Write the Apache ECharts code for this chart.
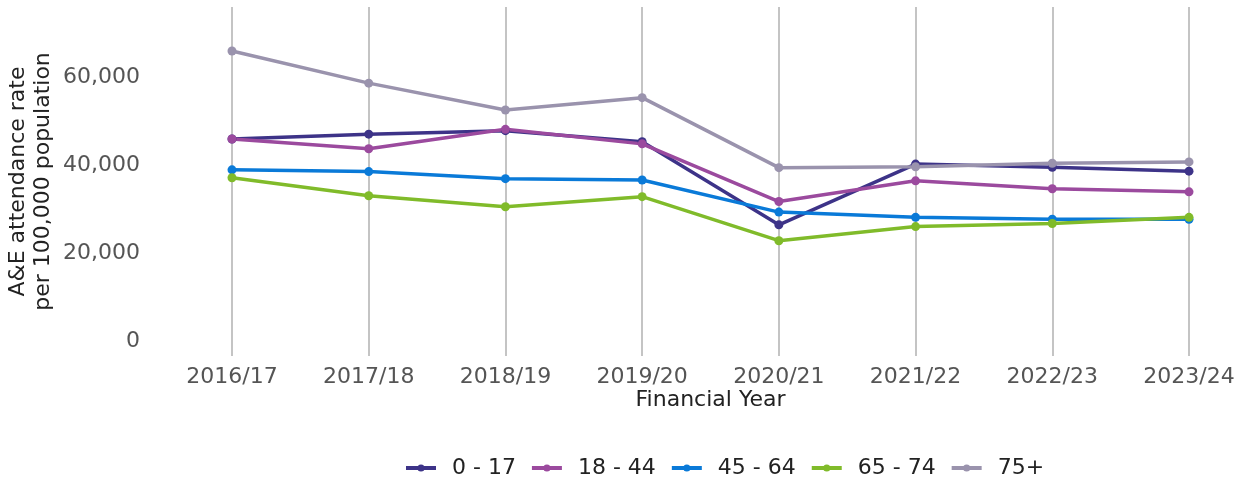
<!DOCTYPE html>
<html>
<head>
<meta charset="utf-8">
<script src="https://cdn.jsdelivr.net/npm/echarts@6/dist/echarts.min.js"></script>
<style>
  html, body { margin: 0; padding: 0; background: #fff; }
  #chart { width: 1247px; height: 483px; }
</style>
</head>
<body>
<div id="chart"></div>
<script>
// financial years on the x axis
const years = ["2016/17", "2017/18", "2018/19", "2019/20", "2020/21", "2021/22", "2022/23", "2023/24"];

// A&E attendance rate per 100,000 population, by age band
const age0to17 = [45900, 47000, 47800, 45300, 26400, 40200, 39500, 38600];
const age18to44 = [45900, 43700, 48100, 44800, 31700, 36400, 34600, 33900];
const age45to64 = [38900, 38500, 36900, 36600, 29300, 28100, 27700, 27650];
const age65to74 = [37100, 33000, 30500, 32800, 22800, 26000, 26700, 28100];
const age75plus = [65900, 58600, 52500, 55300, 39400, 39600, 40400, 40700];

const yTicks = [0, 20000, 40000, 60000];

const font = "'DejaVu Sans', sans-serif";

function lineSeries(name, data, color) {
  return {
    name: name,
    type: "line",
    data: data,
    symbol: "circle",
    symbolSize: 9,
    lineStyle: { color: color, width: 3.5 },
    itemStyle: { color: color },
    emphasis: { disabled: true },
  };
}

const chart = echarts.init(document.getElementById("chart"));
chart.setOption({
  animation: false,
  backgroundColor: "#fff",
  grid: { left: 232, right: 58, top: 7, bottom: 127, outerBoundsMode: "none", containLabel: false },
  legend: {
    top: 452,
    left: 399,
    itemWidth: 30,
    itemHeight: 9,
    itemGap: 14,
    lineStyle: { width: 4 },
    textStyle: { fontFamily: font, fontSize: 22, color: "#222", padding: [0, 0, 0, 11] },
  },
  xAxis: {
    type: "category",
    data: years,
    boundaryGap: false,
    name: "Financial Year",
    nameLocation: "middle",
    nameGap: 33,
    nameMoveOverlap: false,
    nameTextStyle: { fontFamily: font, fontSize: 22, color: "#222" },
    axisLine: { show: false },
    axisTick: { show: false },
    axisLabel: { fontFamily: font, fontSize: 22, color: "#555", margin: 10 },
    splitLine: { show: true, lineStyle: { color: "#c4c4c4", width: 2 } },
  },
  yAxis: {
    type: "value",
    min: -3400,
    max: 75900,
    name: "A&E attendance rate\nper 100,000 population",
    nameLocation: "middle",
    nameGap: 176,
    nameMoveOverlap: false,
    nameRotate: 90,
    nameTextStyle: { fontFamily: font, fontSize: 22, color: "#222", lineHeight: 25 },
    axisLine: { show: false },
    axisTick: { show: false },
    splitLine: { show: false },
    axisLabel: {
      customValues: yTicks,
      fontFamily: font,
      fontSize: 22,
      color: "#555",
      margin: 92,
      formatter: (v) => v.toLocaleString("en-GB"),
    },
  },
  series: [
    lineSeries("0 - 17", age0to17, "#3d3388"),
    lineSeries("18 - 44", age18to44, "#9b4a9e"),
    lineSeries("45 - 64", age45to64, "#0a7ad8"),
    lineSeries("65 - 74", age65to74, "#80bb2a"),
    lineSeries("75+", age75plus, "#9a93ad"),
  ],
});
</script>
</body>
</html>
